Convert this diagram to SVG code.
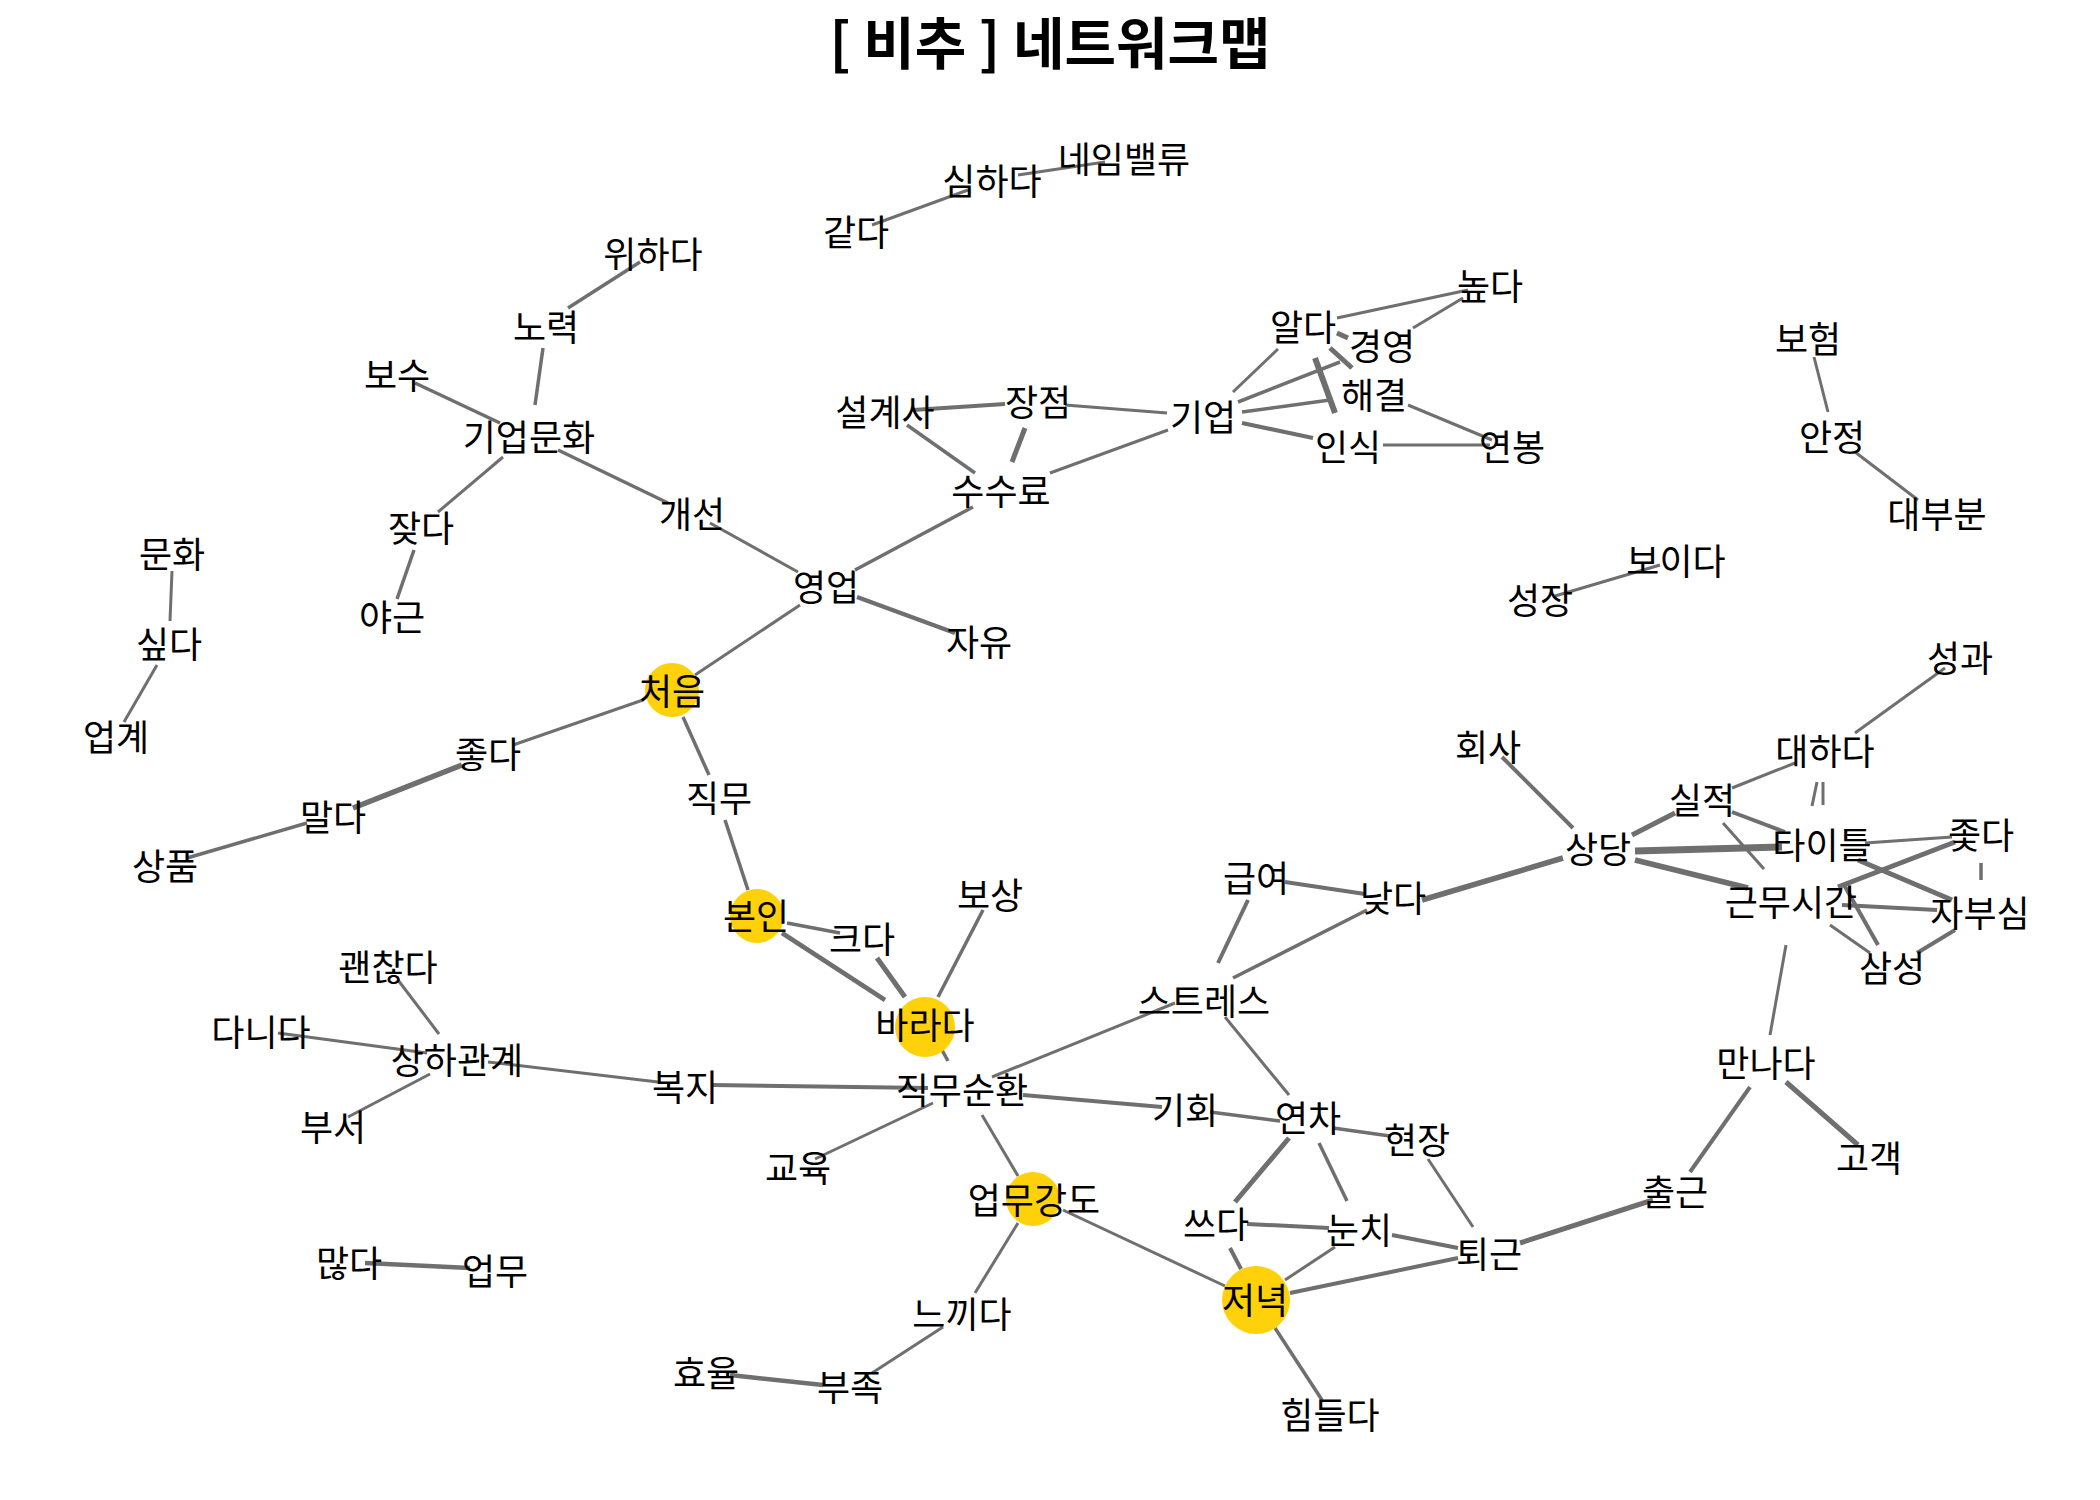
<svg xmlns="http://www.w3.org/2000/svg" width="2100" height="1500" viewBox="0 0 2100 1500">
<style>
.t{font-family:"Noto Sans CJK KR","Noto Sans",sans-serif;font-size:36px;fill:#000;text-anchor:middle;dominant-baseline:central}
.title{font-family:"Noto Sans CJK KR","Noto Sans",sans-serif;font-size:56px;font-weight:bold;fill:#000;text-anchor:middle}
.e line{stroke:#6f6f6f;stroke-linecap:butt}
.k{fill:#FFD10A}
</style>
<rect width="2100" height="1500" fill="#fff"/>
<text class="title" x="1050" y="64">[ 비추 ] 네트워크맵</text>
<g id="edges" class="e">
<line x1="872" y1="225" x2="968" y2="190" stroke-width="3"/>
<line x1="1018" y1="175" x2="1105" y2="162" stroke-width="3"/>
<line x1="640" y1="262" x2="568" y2="308" stroke-width="3.5"/>
<line x1="543" y1="348" x2="535" y2="405" stroke-width="3.5"/>
<line x1="415" y1="383" x2="500" y2="423" stroke-width="3.5"/>
<line x1="503" y1="457" x2="438" y2="512" stroke-width="3"/>
<line x1="414" y1="550" x2="397" y2="599" stroke-width="3.5"/>
<line x1="558" y1="450" x2="668" y2="503" stroke-width="3.5"/>
<line x1="710" y1="523" x2="798" y2="572" stroke-width="3"/>
<line x1="172" y1="571" x2="170" y2="621" stroke-width="3"/>
<line x1="157" y1="665" x2="124" y2="722" stroke-width="3"/>
<line x1="913" y1="410" x2="1005" y2="404" stroke-width="4"/>
<line x1="907" y1="425" x2="975" y2="473" stroke-width="3.5"/>
<line x1="1025" y1="428" x2="1012" y2="462" stroke-width="5"/>
<line x1="1065" y1="405" x2="1167" y2="413" stroke-width="3"/>
<line x1="1050" y1="473" x2="1168" y2="430" stroke-width="3"/>
<line x1="1233" y1="392" x2="1278" y2="349" stroke-width="3"/>
<line x1="1238" y1="402" x2="1340" y2="362" stroke-width="3.5"/>
<line x1="1242" y1="412" x2="1330" y2="400" stroke-width="3.5"/>
<line x1="1242" y1="423" x2="1313" y2="438" stroke-width="4"/>
<line x1="1337" y1="318" x2="1468" y2="290" stroke-width="3"/>
<line x1="1413" y1="328" x2="1463" y2="298" stroke-width="3"/>
<line x1="1337" y1="333" x2="1348" y2="338" stroke-width="5"/>
<line x1="1330" y1="348" x2="1352" y2="368" stroke-width="5"/>
<line x1="1315" y1="358" x2="1335" y2="413" stroke-width="6"/>
<line x1="1383" y1="445" x2="1490" y2="445" stroke-width="3"/>
<line x1="1408" y1="405" x2="1492" y2="440" stroke-width="3"/>
<line x1="1814" y1="357" x2="1828" y2="412" stroke-width="3"/>
<line x1="1855" y1="452" x2="1918" y2="500" stroke-width="3"/>
<line x1="1555" y1="596" x2="1660" y2="565" stroke-width="3"/>
<line x1="855" y1="570" x2="973" y2="507" stroke-width="3.5"/>
<line x1="857" y1="597" x2="955" y2="633" stroke-width="4.5"/>
<line x1="800" y1="605" x2="695" y2="675" stroke-width="3"/>
<line x1="643" y1="700" x2="513" y2="745" stroke-width="3"/>
<line x1="462" y1="765" x2="353" y2="808" stroke-width="5.5"/>
<line x1="307" y1="823" x2="187" y2="858" stroke-width="3.5"/>
<line x1="683" y1="717" x2="709" y2="775" stroke-width="3.5"/>
<line x1="725" y1="820" x2="748" y2="890" stroke-width="3.5"/>
<line x1="787" y1="923" x2="840" y2="933" stroke-width="3.5"/>
<line x1="782" y1="933" x2="885" y2="1000" stroke-width="4.5"/>
<line x1="877" y1="958" x2="905" y2="997" stroke-width="5"/>
<line x1="983" y1="910" x2="938" y2="997" stroke-width="3.5"/>
<line x1="942" y1="1050" x2="948" y2="1061" stroke-width="3.5"/>
<line x1="398" y1="980" x2="439" y2="1034" stroke-width="3"/>
<line x1="278" y1="1033" x2="427" y2="1053" stroke-width="3"/>
<line x1="430" y1="1074" x2="348" y2="1117" stroke-width="3"/>
<line x1="488" y1="1062" x2="658" y2="1082" stroke-width="3"/>
<line x1="712" y1="1085" x2="928" y2="1088" stroke-width="4"/>
<line x1="933" y1="1103" x2="815" y2="1159" stroke-width="3"/>
<line x1="982" y1="1115" x2="1018" y2="1176" stroke-width="3"/>
<line x1="1018" y1="1223" x2="975" y2="1293" stroke-width="3"/>
<line x1="943" y1="1327" x2="872" y2="1373" stroke-width="3"/>
<line x1="730" y1="1375" x2="823" y2="1385" stroke-width="4.5"/>
<line x1="365" y1="1263" x2="470" y2="1268" stroke-width="4.5"/>
<line x1="992" y1="1077" x2="1175" y2="1003" stroke-width="3"/>
<line x1="1023" y1="1095" x2="1162" y2="1107" stroke-width="4"/>
<line x1="1225" y1="1017" x2="1289" y2="1095" stroke-width="3"/>
<line x1="1210" y1="1112" x2="1280" y2="1121" stroke-width="3.5"/>
<line x1="1333" y1="1128" x2="1390" y2="1136" stroke-width="3.5"/>
<line x1="1289" y1="1138" x2="1235" y2="1202" stroke-width="5"/>
<line x1="1319" y1="1143" x2="1347" y2="1201" stroke-width="3.5"/>
<line x1="1428" y1="1159" x2="1473" y2="1227" stroke-width="3"/>
<line x1="1247" y1="1224" x2="1329" y2="1228" stroke-width="4"/>
<line x1="1392" y1="1235" x2="1458" y2="1248" stroke-width="4"/>
<line x1="1063" y1="1210" x2="1225" y2="1286" stroke-width="3"/>
<line x1="1230" y1="1248" x2="1241" y2="1269" stroke-width="4"/>
<line x1="1335" y1="1247" x2="1285" y2="1280" stroke-width="3"/>
<line x1="1290" y1="1293" x2="1458" y2="1258" stroke-width="4"/>
<line x1="1275" y1="1328" x2="1322" y2="1400" stroke-width="3.5"/>
<line x1="1520" y1="1243" x2="1653" y2="1200" stroke-width="5"/>
<line x1="1285" y1="882" x2="1365" y2="894" stroke-width="4"/>
<line x1="1248" y1="900" x2="1218" y2="963" stroke-width="4"/>
<line x1="1233" y1="978" x2="1367" y2="910" stroke-width="3.5"/>
<line x1="1422" y1="900" x2="1563" y2="858" stroke-width="5.5"/>
<line x1="1502" y1="757" x2="1573" y2="828" stroke-width="4"/>
<line x1="1855" y1="733" x2="1945" y2="668" stroke-width="3"/>
<line x1="1732" y1="788" x2="1795" y2="763" stroke-width="3"/>
<line x1="1823" y1="782" x2="1823" y2="805" stroke-width="3"/>
<line x1="1817" y1="782" x2="1812" y2="806" stroke-width="3"/>
<line x1="1632" y1="835" x2="1675" y2="813" stroke-width="5"/>
<line x1="1732" y1="812" x2="1785" y2="832" stroke-width="4"/>
<line x1="1723" y1="823" x2="1764" y2="869" stroke-width="3"/>
<line x1="1635" y1="851" x2="1782" y2="847" stroke-width="7"/>
<line x1="1635" y1="860" x2="1748" y2="888" stroke-width="5.5"/>
<line x1="1865" y1="843" x2="1952" y2="837" stroke-width="3"/>
<line x1="1858" y1="860" x2="1952" y2="900" stroke-width="5"/>
<line x1="1955" y1="842" x2="1838" y2="887" stroke-width="5"/>
<line x1="1981" y1="863" x2="1981" y2="880" stroke-width="3.5"/>
<line x1="1842" y1="905" x2="1937" y2="910" stroke-width="4"/>
<line x1="1843" y1="883" x2="1878" y2="945" stroke-width="4"/>
<line x1="1830" y1="925" x2="1870" y2="953" stroke-width="3"/>
<line x1="1955" y1="930" x2="1917" y2="953" stroke-width="4"/>
<line x1="1786" y1="945" x2="1770" y2="1035" stroke-width="3"/>
<line x1="1750" y1="1087" x2="1690" y2="1172" stroke-width="4"/>
<line x1="1786" y1="1082" x2="1858" y2="1145" stroke-width="5"/>
</g>
<g id="n-gatda"><text class="t" x="856" y="230">같다</text></g>
<g id="n-simhada"><text class="t" x="992" y="179">심하다</text></g>
<g id="n-name"><text class="t" x="1124" y="157">네임밸류</text></g>
<g id="n-wihada"><text class="t" x="653" y="252">위하다</text></g>
<g id="n-noryeok"><text class="t" x="546" y="325">노력</text></g>
<g id="n-bosu"><text class="t" x="397" y="373">보수</text></g>
<g id="n-giupmunhwa"><text class="t" x="529" y="435">기업문화</text></g>
<g id="n-jatda"><text class="t" x="421" y="526">잦다</text></g>
<g id="n-yageun"><text class="t" x="392" y="615">야근</text></g>
<g id="n-gaeseon"><text class="t" x="692" y="512">개선</text></g>
<g id="n-munhwa"><text class="t" x="172" y="552">문화</text></g>
<g id="n-sipda"><text class="t" x="169" y="642">싶다</text></g>
<g id="n-upgye"><text class="t" x="116" y="735">업계</text></g>
<g id="n-seolgyesa"><text class="t" x="885" y="410">설계사</text></g>
<g id="n-jangjeom"><text class="t" x="1038" y="400">장점</text></g>
<g id="n-susuryo"><text class="t" x="1001" y="489">수수료</text></g>
<g id="n-giup"><text class="t" x="1203" y="415">기업</text></g>
<g id="n-alda"><text class="t" x="1303" y="325">알다</text></g>
<g id="n-gyeongyeong"><text class="t" x="1382" y="344">경영</text></g>
<g id="n-haegyeol"><text class="t" x="1374" y="393">해결</text></g>
<g id="n-insik"><text class="t" x="1348" y="445">인식</text></g>
<g id="n-yeonbong"><text class="t" x="1512" y="445">연봉</text></g>
<g id="n-nopda"><text class="t" x="1490" y="284">높다</text></g>
<g id="n-boheom"><text class="t" x="1808" y="337">보험</text></g>
<g id="n-anjeong"><text class="t" x="1832" y="435">안정</text></g>
<g id="n-daebubun"><text class="t" x="1937" y="512">대부분</text></g>
<g id="n-boida"><text class="t" x="1676" y="559">보이다</text></g>
<g id="n-seongjang"><text class="t" x="1540" y="598">성장</text></g>
<g id="n-yeongup"><text class="t" x="826" y="585">영업</text></g>
<g id="n-jayu"><text class="t" x="979" y="640">자유</text></g>
<g id="n-cheoeum"><circle class="k" cx="672" cy="690" r="27"/><text class="t" x="672" y="689">처음</text></g>
<g id="n-jota"><text class="t" x="488" y="752">좋다</text></g>
<g id="n-malda"><text class="t" x="333" y="815">말다</text></g>
<g id="n-sangpum"><text class="t" x="165" y="864">상품</text></g>
<g id="n-jikmu"><text class="t" x="719" y="796">직무</text></g>
<g id="n-bonin"><circle class="k" cx="757" cy="916" r="27"/><text class="t" x="756" y="914">본인</text></g>
<g id="n-keuda"><text class="t" x="862" y="937">크다</text></g>
<g id="n-bosang"><text class="t" x="990" y="893">보상</text></g>
<g id="n-barada"><circle class="k" cx="925" cy="1027" r="30"/><text class="t" x="925" y="1023">바라다</text></g>
<g id="n-gwaenchanta"><text class="t" x="388" y="965">괜찮다</text></g>
<g id="n-danida"><text class="t" x="261" y="1030">다니다</text></g>
<g id="n-sangha"><text class="t" x="457" y="1058">상하관계</text></g>
<g id="n-buseo"><text class="t" x="333" y="1125">부서</text></g>
<g id="n-bokji"><text class="t" x="685" y="1085">복지</text></g>
<g id="n-jikmusunhwan"><text class="t" x="962" y="1088">직무순환</text></g>
<g id="n-gyoyuk"><text class="t" x="798" y="1166">교육</text></g>
<g id="n-eopmugangdo"><circle class="k" cx="1033" cy="1199" r="27"/><text class="t" x="1034" y="1198">업무강도</text></g>
<g id="n-neukkida"><text class="t" x="962" y="1312">느끼다</text></g>
<g id="n-hyoyul"><text class="t" x="706" y="1371">효율</text></g>
<g id="n-bujok"><text class="t" x="850" y="1385">부족</text></g>
<g id="n-manta"><text class="t" x="349" y="1261">많다</text></g>
<g id="n-eopmu"><text class="t" x="495" y="1269">업무</text></g>
<g id="n-gihoe"><text class="t" x="1185" y="1108">기회</text></g>
<g id="n-yeoncha"><text class="t" x="1308" y="1116">연차</text></g>
<g id="n-hyeonjang"><text class="t" x="1417" y="1138">현장</text></g>
<g id="n-sseuda"><text class="t" x="1216" y="1222">쓰다</text></g>
<g id="n-nunchi"><text class="t" x="1359" y="1228">눈치</text></g>
<g id="n-toegeun"><text class="t" x="1489" y="1252">퇴근</text></g>
<g id="n-jeonyeok"><circle class="k" cx="1256" cy="1300" r="34"/><text class="t" x="1255" y="1298">저녁</text></g>
<g id="n-himdeulda"><text class="t" x="1330" y="1413">힘들다</text></g>
<g id="n-stress"><text class="t" x="1204" y="999">스트레스</text></g>
<g id="n-geupyeo"><text class="t" x="1256" y="876">급여</text></g>
<g id="n-natda"><text class="t" x="1393" y="896">낮다</text></g>
<g id="n-hoesa"><text class="t" x="1488" y="745">회사</text></g>
<g id="n-sangdang"><text class="t" x="1598" y="847">상당</text></g>
<g id="n-siljeok"><text class="t" x="1702" y="798">실적</text></g>
<g id="n-daehada"><text class="t" x="1825" y="749">대하다</text></g>
<g id="n-seonggwa"><text class="t" x="1960" y="656">성과</text></g>
<g id="n-title"><text class="t" x="1822" y="843">타이틀</text></g>
<g id="n-jotda"><text class="t" x="1981" y="833">좇다</text></g>
<g id="n-geunmusigan"><text class="t" x="1791" y="900">근무시간</text></g>
<g id="n-jabusim"><text class="t" x="1980" y="911">자부심</text></g>
<g id="n-samsung"><text class="t" x="1892" y="966">삼성</text></g>
<g id="n-mannada"><text class="t" x="1766" y="1061">만나다</text></g>
<g id="n-gogaek"><text class="t" x="1869" y="1156">고객</text></g>
<g id="n-chulgeun"><text class="t" x="1675" y="1190">출근</text></g>
</svg>
